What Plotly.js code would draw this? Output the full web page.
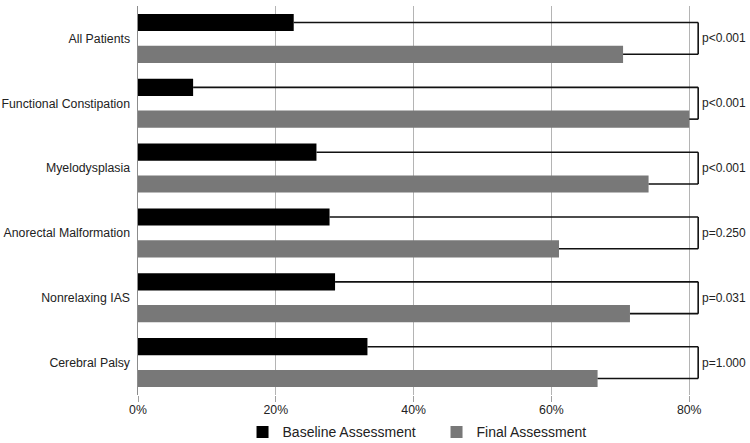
<!DOCTYPE html>
<html>
<head>
<meta charset="utf-8">
<script src="https://cdn.plot.ly/plotly-3.0.1.min.js"></script>
<style>
  html, body { margin: 0; padding: 0; background: #fff; }
  #chart { width: 750px; height: 443px; }
</style>
</head>
<body>
<div id="chart"></div>
<script>
// categories, top to bottom
const categories = [
    "All Patients",
    "Functional Constipation",
    "Myelodysplasia",
    "Anorectal Malformation",
    "Nonrelaxing IAS",
    "Cerebral Palsy"
];

// percent of patients
const baseline = [22.6, 8.0, 25.9, 27.8, 28.6, 33.3];
const finalVals = [70.4, 80.0, 74.1, 61.1, 71.4, 66.7];
const pValues = ["p<0.001", "p<0.001", "p<0.001", "p=0.250", "p=0.031", "p=1.000"];

const xTicks = [0, 20, 40, 60, 80];

// bracket position and bar spacing
const bracketX = 81.3;
const barGap = 0.02;
const barGroupGap = 0.46;
const offset = (1 - barGap) / 4;   // centre of each bar from category centre

const baseTrace = {
    type: "bar",
    orientation: "h",
    name: "Baseline Assessment",
    y: categories,
    x: baseline,
    marker: { color: "#000000" },
    hoverinfo: "x+y"
};

const finalTrace = {
    type: "bar",
    orientation: "h",
    name: "Final Assessment",
    y: categories,
    x: finalVals,
    marker: { color: "#787878" },
    hoverinfo: "x+y"
};

// brackets joining each pair of bars
const lineStyle = { color: "#111111", width: 1.6 };
let shapes = [];
let annotations = [];
categories.forEach((c, i) => {
    const yTop = i - offset;
    const yBot = i + offset;
    shapes.push({ type: "line", xref: "x", yref: "y", x0: baseline[i], x1: bracketX, y0: yTop, y1: yTop, line: lineStyle });
    shapes.push({ type: "line", xref: "x", yref: "y", x0: finalVals[i], x1: bracketX, y0: yBot, y1: yBot, line: lineStyle });
    shapes.push({ type: "line", xref: "x", yref: "y", x0: bracketX, x1: bracketX, y0: yTop, y1: yBot, line: lineStyle });

    annotations.push({
        x: bracketX, y: i, xref: "x", yref: "y",
        text: pValues[i],
        showarrow: false,
        xanchor: "left",
        xshift: 2,
        font: { size: 12, color: "#222222" }
    });
});

const layout = {
    width: 750,
    height: 443,
    margin: { l: 138, r: 47, t: 6, b: 48, autoexpand: false },
    paper_bgcolor: "#ffffff",
    plot_bgcolor: "#ffffff",
    font: { family: "Liberation Sans, Arial, sans-serif", size: 12, color: "#222222" },
    barmode: "group",
    bargap: barGap,
    bargroupgap: barGroupGap,
    showlegend: true,
    legend: {
        orientation: "h",
        x: 0.185,
        xanchor: "left",
        y: -0.055,
        yanchor: "top",
        font: { size: 14, color: "#222222" },
        traceorder: "normal",
        itemwidth: 30,
        entrywidth: 149,
        entrywidthmode: "pixels"
    },
    xaxis: {
        range: [0, 82],
        tickvals: xTicks,
        ticktext: xTicks.map(v => v + "%"),
        showgrid: true,
        gridcolor: "#b4b4b4",
        gridwidth: 1,
        zeroline: false,
        showline: false,
        ticks: "outside",
        ticklen: 6,
        tickcolor: "#a0a0a0",
        ticklabelstandoff: -3,
        tickfont: { size: 12.3 }
    },
    yaxis: {
        autorange: "reversed",
        showgrid: false,
        zeroline: false,
        showline: true,
        linecolor: "#8c8c8c",
        linewidth: 1.5,
        ticks: "outside",
        ticklen: 4,
        tickcolor: "rgba(0,0,0,0)",
        tickfont: { size: 12.3 }
    },
    shapes: shapes,
    annotations: annotations
};

Plotly.newPlot("chart", [baseTrace, finalTrace], layout, { displayModeBar: false, staticPlot: true });
</script>
</body>
</html>
